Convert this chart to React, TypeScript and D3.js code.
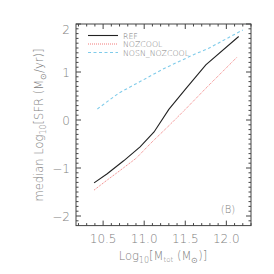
import React, { useEffect, useRef } from "react";
import * as d3 from "d3";

// median SFR vs halo mass
const refMass = [10.39, 10.55, 10.75, 10.95, 11.12, 11.3, 11.5, 11.75, 12.15];
const refSfr = [-1.31, -1.12, -0.85, -0.56, -0.25, 0.22, 0.64, 1.15, 1.74];
const nozMass = [10.39, 10.55, 10.7, 10.9, 11.1, 11.3, 11.5, 11.75, 12.13];
const nozSfr = [-1.46, -1.25, -1.06, -0.8, -0.45, -0.12, 0.22, 0.66, 1.31];
const nosnMass = [10.43, 10.69, 10.95, 11.25, 11.4, 11.6, 11.78, 12.2];
const nosnSfr = [0.23, 0.56, 0.8, 1.08, 1.2, 1.36, 1.49, 1.875];

const xTicks = [10.5, 11.0, 11.5, 12.0];
const yTicks = [-2, -1, 0, 1, 2];
const legendNames = ["REF", "NOZCOOL", "NOSN_NOZCOOL"];

const App = () => {
  const svgRef = useRef<SVGSVGElement>(null);

  useEffect(() => {
    const svg = d3.select(svgRef.current);
    svg.selectAll("*").remove();
    const left = 76, right = 251, top = 24, bottom = 225.6;
    const x = d3.scaleLinear().domain([10.17, 12.3]).range([left, right]);
    const y = d3.scaleLinear().domain([-2.2, 2]).range([bottom, top]);
    const axisCol = "#444";
    const textCol = "#808080";
    const font = "DejaVu Sans";

    const g = svg.append("g");
    g.append("rect")
      .attr("x", left).attr("y", top)
      .attr("width", right - left).attr("height", bottom - top)
      .attr("fill", "none").attr("stroke", axisCol).attr("stroke-width", 1);

    // ticks, inside, all four sides
    const xMinor = d3.range(10.2, 12.3, 0.1);
    xMinor.forEach(v => {
      const major = xTicks.some(t => Math.abs(t - v) < 1e-6);
      const len = major ? 5 : 2.5;
      g.append("line").attr("x1", x(v)).attr("x2", x(v)).attr("y1", bottom).attr("y2", bottom - len).attr("stroke", axisCol);
      g.append("line").attr("x1", x(v)).attr("x2", x(v)).attr("y1", top).attr("y2", top + len).attr("stroke", axisCol);
    });
    const yMinor = d3.range(-2.1, 2.001, 0.1);
    yMinor.forEach(v => {
      const major = yTicks.some(t => Math.abs(t - v) < 1e-6);
      const len = major ? 5 : 2.5;
      g.append("line").attr("y1", y(v)).attr("y2", y(v)).attr("x1", left).attr("x2", left + len).attr("stroke", axisCol);
      g.append("line").attr("y1", y(v)).attr("y2", y(v)).attr("x1", right).attr("x2", right - len).attr("stroke", axisCol);
    });

    g.selectAll(".xt").data(xTicks).enter().append("text")
      .attr("x", d => x(d)).attr("y", 243)
      .attr("text-anchor", "middle")
      .attr("font-family", font).attr("font-weight", 200).attr("font-size", 12).attr("fill", textCol)
      .text(d => d.toFixed(1));
    g.selectAll(".yt").data(yTicks).enter().append("text")
      .attr("x", 70).attr("y", d => Math.max(y(d), 29) + 4.5)
      .attr("text-anchor", "end")
      .attr("font-family", font).attr("font-weight", 200).attr("font-size", 12).attr("fill", textCol)
      .text(d => (d < 0 ? "\u2212" + Math.abs(d) : String(d)));

    // axis titles
    const xl = g.append("text")
      .attr("x", 163).attr("y", 260).attr("text-anchor", "middle")
      .attr("font-family", font).attr("font-weight", 200).attr("font-size", 11.5).attr("fill", textCol);
    xl.append("tspan").text("Log");
    xl.append("tspan").attr("font-size", 8).attr("dy", 3).text("10");
    xl.append("tspan").attr("dy", -3).text("[M");
    xl.append("tspan").attr("font-size", 7).attr("dy", 2).text("tot");
    xl.append("tspan").attr("dy", -2).text(" (M");
    xl.append("tspan").attr("font-size", 8).attr("dy", 3).text("\u2299");
    xl.append("tspan").attr("dy", -3).text(")]");

    const yl = g.append("text")
      .attr("transform", "translate(43,125) rotate(-90)").attr("text-anchor", "middle")
      .attr("font-family", font).attr("font-weight", 200).attr("font-size", 11.5).attr("fill", textCol);
    yl.append("tspan").text("median Log");
    yl.append("tspan").attr("font-size", 8).attr("dy", 3).text("10");
    yl.append("tspan").attr("dy", -3).text("[SFR (M");
    yl.append("tspan").attr("font-size", 8).attr("dy", 3).text("\u2299");
    yl.append("tspan").attr("dy", -3).text("/yr)]");

    const line = d3.line<[number, number]>().x(d => x(d[0])).y(d => y(d[1]));
    const series = [
      { m: refMass, s: refSfr, color: "#222", dash: null as string | null, w: 1.1 },
      { m: nozMass, s: nozSfr, color: "#f27a7a", dash: "1,1", w: 1 },
      { m: nosnMass, s: nosnSfr, color: "#7fcbea", dash: "3,2.5", w: 1.1 },
    ];
    series.forEach(sr => {
      const pts = sr.m.map((v, i) => [v, sr.s[i]] as [number, number]);
      g.append("path").attr("d", line(pts)!)
        .attr("fill", "none").attr("stroke", sr.color)
        .attr("stroke-width", sr.w)
        .attr("stroke-dasharray", sr.dash);
    });

    // legend
    const ly = [35.5, 44, 52.5];
    series.forEach((sr, i) => {
      g.append("line").attr("x1", 88).attr("x2", 118).attr("y1", ly[i]).attr("y2", ly[i])
        .attr("stroke", sr.color).attr("stroke-width", sr.w).attr("stroke-dasharray", sr.dash);
      g.append("text").attr("x", 123).attr("y", ly[i] + 3)
        .attr("font-family", font).attr("font-weight", 200).attr("font-size", 7.8).attr("fill", textCol)
        .text(legendNames[i]);
    });

    g.append("text").attr("x", 228).attr("y", 213).attr("text-anchor", "middle")
      .attr("font-family", font).attr("font-weight", 200).attr("font-size", 10).attr("fill", textCol).text("(B)");
  }, []);

  return (
    <svg ref={svgRef} width={274} height={274}
      style={{ position: "absolute", left: 0, top: 0, background: "#fff" }} />
  );
};

export default App;
